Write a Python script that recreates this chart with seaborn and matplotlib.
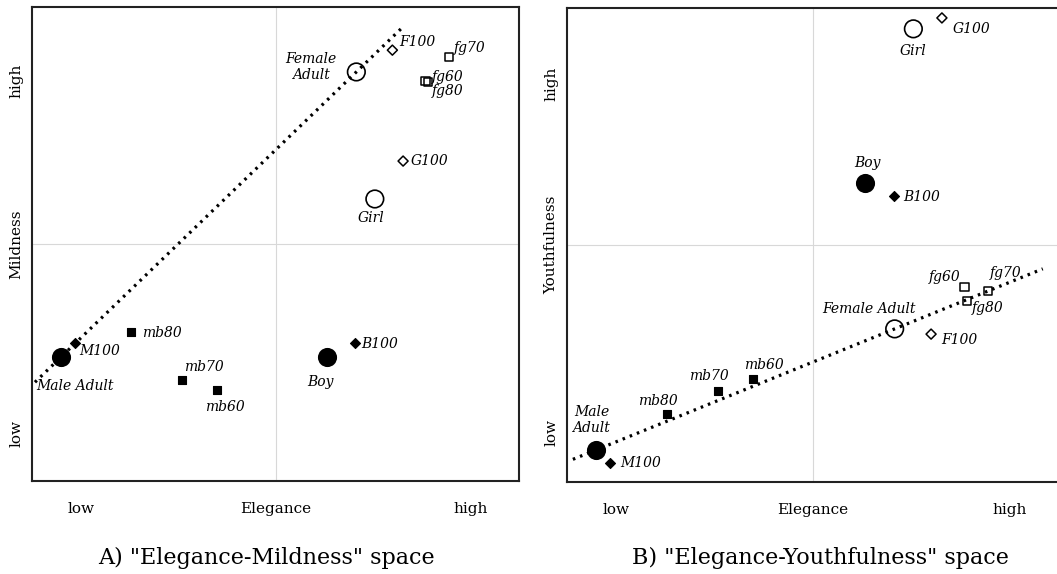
import numpy as np
import pandas as pd
import seaborn as sns
import matplotlib.pyplot as plt

# --- data (0-10 scale, 5 = centre) ---
labels = ["Male Adult", "M100", "mb80", "mb70", "mb60", "Boy", "B100",
          "Female Adult", "F100", "fg60", "fg70", "fg80", "Girl", "G100"]
kinds = ["big filled", "filled diamond", "filled square", "filled square", "filled square",
         "big filled", "filled diamond", "big open", "open diamond",
         "open square", "open square", "open square", "big open", "open diamond"]
elegance = [0.60, 0.88, 2.03, 3.07, 3.79, 6.05, 6.64, 6.66, 7.40, 8.08, 8.56, 8.13, 7.04, 7.62]
mildness = [2.62, 2.91, 3.14, 2.13, 1.92, 2.62, 2.91, 8.63, 9.09, 8.44, 8.95, 8.42, 5.95, 6.75]
youthfulness = [0.68, 0.40, 1.43, 1.92, 2.17, 6.31, 6.03, 3.23, 3.12, 4.11, 4.03, 3.82, 9.56, 9.79]

df = pd.DataFrame({"label": labels, "kind": kinds, "elegance": elegance,
                   "mildness": mildness, "youthfulness": youthfulness})

# --- styling ---
sns.set_theme(style="white")
plt.rcParams["font.family"] = ["DejaVu Serif"]
plt.rcParams["text.color"] = "black"
plt.rcParams["xtick.color"] = "black"
plt.rcParams["ytick.color"] = "black"

marker_styles = {
    "big filled": dict(marker="o", s=190, facecolor="black", linewidth=0),
    "big open": dict(marker="o", s=160, facecolor="none", linewidth=1.2),
    "filled diamond": dict(marker="D", s=26, facecolor="black", linewidth=0.8),
    "open diamond": dict(marker="D", s=26, facecolor="none", linewidth=1.1),
    "filled square": dict(marker="s", s=40, facecolor="black", linewidth=0.8),
    "open square": dict(marker="s", s=36, facecolor="none", linewidth=1.1),
}

# label placement: (dx, dy) in pixels, horizontal alignment, optional text
offsets_a = {
    "Male Adult": (-25, -29, "left", None), "M100": (4, -8, "left", None),
    "mb80": (11, -1, "left", None), "mb70": (2, 13, "left", None),
    "mb60": (-12, -17, "left", None), "Boy": (-6, -25, "center", None),
    "B100": (6, -1, "left", None), "Female Adult": (-45, 5, "center", "Female\nAdult"),
    "F100": (7, 8, "left", None), "fg70": (5, 9, "left", None),
    "fg60": (6, 4, "left", None), "fg80": (4, -9, "left", None),
    "G100": (8, 0, "left", None), "Girl": (-4, -19, "center", None),
}
offsets_b = {
    "Male Adult": (-5, 30, "center", "Male\nAdult"), "M100": (10, 0, "left", None),
    "mb80": (-9, 13, "center", None), "mb70": (-9, 15, "center", None),
    "mb60": (10, 14, "center", None), "Boy": (3, 20, "center", None),
    "B100": (10, -1, "left", None), "Female Adult": (-26, 20, "center", None),
    "F100": (10, -6, "left", None), "fg60": (-4, 10, "right", None),
    "fg70": (2, 18, "left", None), "fg80": (5, -7, "left", None),
    "Girl": (0, -22, "center", None), "G100": (11, -11, "left", None),
}

fig = plt.figure(figsize=(10.57, 5.74), dpi=100)
ax_a = fig.add_axes([0.0303, 0.162, 0.4607, 0.8258])
ax_b = fig.add_axes([0.5364, 0.1603, 0.4655, 0.8258])


def draw_panel(ax, ycol, ylabel, offsets, line_span, ytick_pos):
    ax.axvline(5, color="#d8d8d8", lw=0.8, zorder=0)
    ax.axhline(5, color="#d8d8d8", lw=0.8, zorder=0)

    # dotted line through the two adult points
    adults = df[df["label"].isin(["Male Adult", "Female Adult"])]
    slope, icpt = np.polyfit(adults["elegance"], adults[ycol], 1)
    lx = np.array(line_span)
    line_df = pd.DataFrame({"x": lx, "y": slope * lx + icpt})
    sns.lineplot(data=line_df, x="x", y="y", ax=ax, color="black",
                 linestyle=(0, (0.8, 1.6)), linewidth=2.3, zorder=1)

    for kind, st in marker_styles.items():
        sub = df[df["kind"] == kind]
        sns.scatterplot(data=sub, x="elegance", y=ycol, ax=ax, color="black",
                        edgecolor="black", legend=False, zorder=3, **st)

    for _, row in df.iterrows():
        dx, dy, ha, txt = offsets[row["label"]]
        ax.annotate(txt if txt else row["label"], (row["elegance"], row[ycol]),
                    xytext=(dx, dy), textcoords="offset pixels", ha=ha, va="center",
                    fontsize=10, style="italic", family="DejaVu Serif",
                    multialignment="center", color="black")

    ax.set_xlim(0, 10)
    ax.set_ylim(0, 10)
    ax.set_xticks([1.0, 5.0, 9.0])
    ax.set_xticklabels(["low", "Elegance", "high"], fontsize=11)
    ax.set_yticks(ytick_pos)
    ax.set_yticklabels(["low", ylabel, "high"], fontsize=11, rotation=90, va="center")
    ax.tick_params(axis="x", length=0, pad=15)
    ax.tick_params(axis="y", length=0, pad=6)
    ax.set_xlabel("")
    ax.set_ylabel("")
    for sp in ax.spines.values():
        sp.set_color("#222222")
        sp.set_linewidth(1.5)


draw_panel(ax_a, "mildness", "Mildness", offsets_a, [0.06, 7.6], [1.0, 5.0, 8.45])
draw_panel(ax_b, "youthfulness", "Youthfulness", offsets_b, [0.12, 9.67], [1.05, 5.0, 8.4])

fig.text(0.252, 0.028, 'A) "Elegance-Mildness" space', ha="center", va="center", fontsize=16)
fig.text(0.776, 0.028, 'B) "Elegance-Youthfulness" space', ha="center", va="center", fontsize=16)

fig.savefig("out.png", dpi=100)
